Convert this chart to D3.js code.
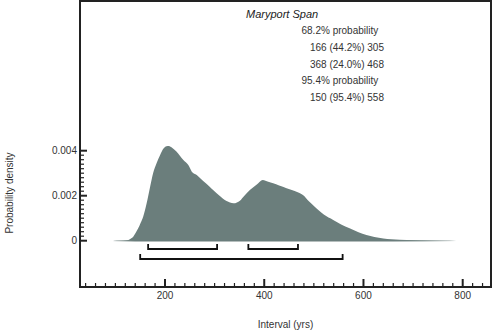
<!DOCTYPE html>
<html><head><meta charset="utf-8">
<script src="https://cdn.jsdelivr.net/npm/d3@7"></script>
<style>body{margin:0;background:#fff}svg{display:block;font-family:"Liberation Sans",Arial,sans-serif}</style>
</head><body>
<svg id="c" width="500" height="335"></svg>
<script>
const years = [96,110,123,130,136,141,146,151,156,163,170,176,183,190,197,203,208,213,223,230,237,247,254,264,277,290,297,310,324,331,338,345,351,360,371,385,397,408,418,430,445,460,470,478,490,505,520,539,555,572,590,606,622,640,656,673,700,730,760,787];
const density = [0,0.000005,0.00002,0.00008,0.00018,0.00035,0.00055,0.0008,0.00107,0.00166,0.0024,0.003,0.00344,0.0038,0.0041,0.0042,0.00421,0.00415,0.00396,0.00378,0.00359,0.00336,0.00307,0.00292,0.00265,0.0024,0.00225,0.002,0.00176,0.0017,0.00166,0.0017,0.00178,0.002,0.00225,0.0025,0.0027,0.00262,0.00255,0.00245,0.00233,0.00222,0.00213,0.00203,0.00175,0.00144,0.00116,0.00092,0.00072,0.00055,0.00038,0.00025,0.00016,0.0001,0.00006,0.00004,0.00002,0.00001,0.000005,0];
const ranges68 = [[166,305],[368,468]];
const ranges95 = [[150,558]];
const title = "Maryport Span";
const legendLines = [
  {t:"68.2% probability", indent:0},
  {t:"166 (44.2%) 305", indent:1},
  {t:"368 (24.0%) 468", indent:1},
  {t:"95.4% probability", indent:0},
  {t:"150 (95.4%) 558", indent:1}
];
const xTicks = [200,400,600,800];
const yTicks = [0,0.002,0.004];
const yTickLabels = ["0","0.002","0.004"];

const svg = d3.select("#c");
const x = d3.scaleLinear().domain([200,800]).range([165,462.7]);
const y = d3.scaleLinear().domain([0,0.004]).range([240.7,150.7]);
const L=80, R=491, T=1, B=287;
const fill = "#6b7e7c";

// tail gradient line
const grad = svg.append("defs").append("linearGradient").attr("id","tail")
  .attr("gradientUnits","userSpaceOnUse").attr("x1",x(96)).attr("x2",x(787)).attr("y1",0).attr("y2",0);
const span = 787-96;
[[96,"#eef0f0"],[125,"#9aa8a6"],[140,fill],[660,fill],[720,"#9aa8a6"],[787,"#ffffff"]].forEach(([v,c])=>{
  grad.append("stop").attr("offset",((v-96)/span)).attr("stop-color",c);
});
svg.append("line").attr("x1",x(96)).attr("x2",x(787)).attr("y1",y(0)).attr("y2",y(0))
  .attr("stroke","url(#tail)").attr("stroke-width",1.5);

const data = years.map((v,i)=>[v,density[i]]);
const area = d3.area().x(d=>x(d[0])).y0(y(0)).y1(d=>y(d[1])).curve(d3.curveMonotoneX);
svg.append("path").datum(data).attr("d", area).attr("fill", fill);

// brackets
function bracket(r, yy){
  const p = d3.path();
  p.moveTo(x(r[0]), yy-5); p.lineTo(x(r[0]), yy); p.lineTo(x(r[1]), yy); p.lineTo(x(r[1]), yy-5);
  svg.append("path").attr("d", p.toString()).attr("fill","none").attr("stroke","#111").attr("stroke-width",1.8);
}
ranges68.forEach(r=>bracket(r,249));
ranges95.forEach(r=>bracket(r,259));

// frame
svg.append("rect").attr("x",L).attr("y",T).attr("width",R-L).attr("height",B-T)
  .attr("fill","none").attr("stroke","#222").attr("stroke-width",2);

// x ticks
const xMinor = d3.range(40, 841, 20);
svg.append("g").selectAll("line").data(xMinor).join("line")
  .attr("x1",d=>x(d)).attr("x2",d=>x(d)).attr("y1",B).attr("y2",d=>xTicks.includes(d)?B-8:B-4)
  .attr("stroke","#222").attr("stroke-width",d=>xTicks.includes(d)?2:1.2);
svg.append("g").selectAll("text").data(xTicks).join("text")
  .attr("x",d=>x(d)).attr("y",299).attr("text-anchor","middle").attr("font-size",10).attr("fill","#333").text(d=>d);

// y ticks
const yMinor = d3.range(0, 21).map(i=>i*0.0002);
svg.append("g").selectAll("line").data(yMinor).join("line")
  .attr("x1",L).attr("x2",(d,i)=>i%10===0?L+7:L+4).attr("y1",d=>y(d)).attr("y2",d=>y(d))
  .attr("stroke","#222").attr("stroke-width",(d,i)=>i%10===0?2:1.2);
svg.append("g").selectAll("text").data(yTicks).join("text")
  .attr("x",77).attr("y",d=>y(d)+3.5).attr("text-anchor","end").attr("font-size",10).attr("fill","#333")
  .text((d,i)=>yTickLabels[i]);

// axis labels
svg.append("text").attr("transform","translate(13,193) rotate(-90)").attr("text-anchor","middle")
  .attr("font-size",10).attr("fill","#333").text("Probability density");
svg.append("text").attr("x",285.5).attr("y",327.5).attr("text-anchor","middle")
  .attr("font-size",10).attr("fill","#333").text("Interval (yrs)");

// legend text
svg.append("text").attr("x",246).attr("y",18).attr("font-size",11).attr("font-style","italic").attr("fill","#222").text(title);
svg.selectAll("text.leg").data(legendLines).join("text").attr("class","leg")
  .attr("x",d=>d.indent?310:301.5).attr("y",(d,i)=>34.3+i*16.7).attr("font-size",10).attr("fill","#333").text(d=>d.t);
</script>
</body></html>
